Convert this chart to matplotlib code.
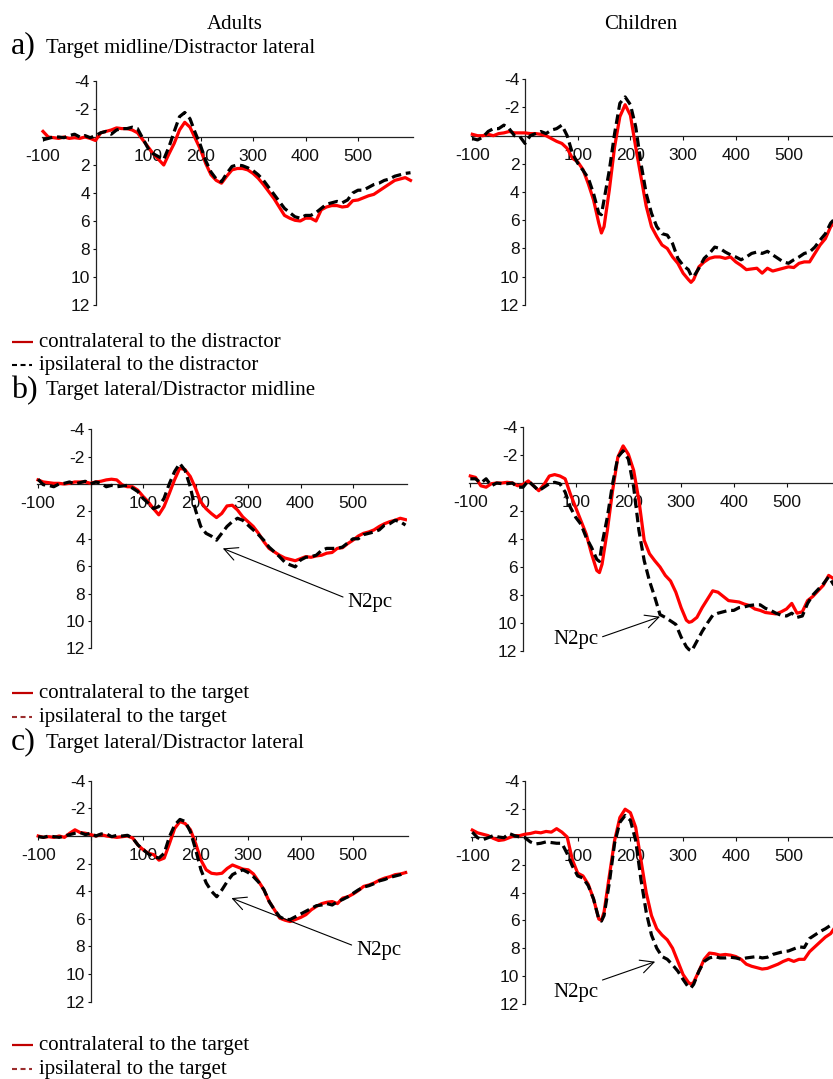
import matplotlib
matplotlib.use("Agg")
import matplotlib.pyplot as plt
from matplotlib.lines import Line2D

# ---------------- data (µV, negative up; time in ms) ----------------
time_adult = list(range(-100, 601, 10))
time_child = list(range(-100, 141, 10)) + [145] + list(range(150, 311, 10)) + [315] + list(range(320, 591, 10))

a_adult_contra = [-0.4, 0.0, 0.05, 0.1, 0.0, 0.1, 0.05, 0.1, 0.0, 0.1, 0.25, -0.3, -0.4, -0.5, -0.65, -0.6,
                  -0.6, -0.5, -0.3, 0.2, 0.7, 1.2, 1.6, 2.0, 1.2, 0.45, -0.5, -1.05, -0.7, 0.1, 0.9, 1.9,
                  2.7, 3.1, 3.3, 2.8, 2.35, 2.25, 2.25, 2.35, 2.6, 2.95, 3.4, 3.9, 4.4, 5.0, 5.6, 5.8,
                  5.95, 6.0, 5.8, 5.8, 6.0, 5.2, 5.0, 4.9, 4.9, 5.0, 4.95, 4.55, 4.5, 4.35, 4.2, 4.1,
                  3.85, 3.6, 3.35, 3.1, 3.0, 2.9, 3.1]
a_adult_ipsi = [0.2, 0.1, 0.0, 0.0, 0.05, -0.1, -0.2, 0.0, -0.1, 0.05, -0.1, -0.3, -0.4, -0.2, -0.5, -0.6,
                -0.6, -0.7, -0.6, 0.1, 0.8, 1.2, 1.4, 1.6, 0.7, -0.4, -1.45, -1.75, -1.3, -0.3, 0.6, 1.7,
                2.5, 3.0, 3.2, 2.6, 2.1, 2.0, 2.05, 2.2, 2.4, 2.7, 3.1, 3.6, 4.1, 4.6, 5.1, 5.4,
                5.7, 5.8, 5.6, 5.6, 5.4, 5.1, 4.8, 4.7, 4.6, 4.7, 4.5, 4.0, 3.8, 3.8, 3.6, 3.4,
                3.3, 3.1, 3.0, 2.8, 2.7, 2.6, 2.55]
a_child_contra = [-0.1, 0.0, 0.0, -0.1, 0.0, -0.15, -0.2, -0.3, -0.2, -0.2, -0.2, -0.15, -0.15, -0.1, 0.0,
                  0.2, 0.4, 0.55, 0.9, 1.6, 1.85, 2.4, 3.4, 4.55, 6.2, 6.9, 6.45, 3.85, 0.8, -1.35, -2.2,
                  -1.45, 0.8, 2.9, 5.0, 6.45, 7.15, 7.75, 8.0, 8.6, 9.05, 9.75, 10.2, 10.4, 10.2, 9.3,
                  8.95, 8.7, 8.6, 8.6, 8.7, 8.6, 8.95, 9.2, 9.5, 9.45, 9.4, 9.75, 9.4, 9.6, 9.5, 9.4,
                  9.3, 9.35, 9.05, 8.95, 8.95, 8.35, 7.75, 7.3, 6.45, 6.0]
a_child_ipsi = [0.2, 0.3, 0.1, -0.3, -0.5, -0.5, -0.75, -0.5, 0.0, 0.05, 0.55, 0.0, -0.15, -0.3, -0.15,
                -0.4, -0.5, -0.75, 0.0, 1.25, 1.95, 2.45, 3.0, 4.1, 5.5, 5.6, 4.55, 2.45, -0.15, -2.3,
                -2.75, -2.2, -0.65, 1.95, 4.1, 5.5, 6.45, 6.95, 7.05, 7.65, 8.7, 9.2, 9.5, 9.9, 10.0,
                9.4, 8.7, 8.35, 7.9, 8.0, 8.25, 8.45, 8.6, 8.8, 8.6, 8.35, 8.25, 8.35, 8.2, 8.45, 8.7,
                8.95, 9.05, 8.8, 8.6, 8.35, 8.25, 7.9, 7.4, 6.95, 6.2, 5.8]

b_adult_contra = [-0.3, -0.15, -0.1, -0.05, -0.05, 0.0, -0.05, -0.15, -0.15, -0.15, -0.05, -0.15, -0.2,
                  -0.3, -0.35, -0.3, 0.05, 0.2, 0.2, 0.45, 0.9, 1.3, 1.8, 2.25, 1.65, 0.7, -0.3, -1.15,
                  -1.05, -0.55, 0.3, 1.3, 1.8, 2.15, 2.45, 2.15, 1.6, 1.55, 1.9, 2.4, 2.75, 3.1, 3.6,
                  4.2, 4.7, 4.95, 5.2, 5.4, 5.5, 5.6, 5.45, 5.3, 5.35, 5.25, 5.2, 5.05, 5.0, 4.7, 4.65,
                  4.35, 4.1, 3.8, 3.6, 3.5, 3.35, 3.1, 2.9, 2.75, 2.65, 2.5, 2.6]
b_adult_ipsi = [-0.35, 0.05, 0.1, 0.2, 0.0, -0.05, -0.15, 0.0, -0.1, -0.2, 0.0, -0.15, -0.05, 0.2, 0.1,
                0.2, 0.15, 0.1, 0.3, 0.55, 1.05, 1.4, 1.8, 1.65, 1.05, 0.0, -0.9, -1.5, -1.0, 0.2, 1.9,
                3.1, 3.6, 3.8, 4.1, 3.6, 3.1, 2.75, 2.5, 2.65, 3.0, 3.35, 3.7, 4.1, 4.6, 4.95, 5.3,
                5.7, 5.9, 6.05, 5.55, 5.35, 5.3, 5.2, 4.85, 4.7, 4.7, 4.7, 4.6, 4.3, 4.0, 4.0, 3.7,
                3.6, 3.5, 3.35, 3.0, 2.9, 2.65, 2.75, 3.0]
b_child_contra = [-0.5, -0.4, 0.2, 0.3, 0.05, 0.0, 0.0, -0.05, 0.0, 0.2, 0.1, -0.15, 0.2, 0.55, 0.1, -0.5,
                  -0.6, -0.5, -0.3, 0.8, 1.75, 2.7, 3.65, 5.05, 6.25, 6.4, 5.8, 3.4, 0.55, -1.85, -2.65,
                  -2.05, -0.9, 1.25, 4.1, 5.05, 5.55, 6.0, 6.6, 7.0, 7.8, 8.9, 9.8, 9.95, 9.9, 9.6, 8.9,
                  8.3, 7.7, 7.8, 8.1, 8.4, 8.45, 8.5, 8.65, 8.75, 9.0, 9.1, 9.25, 9.3, 9.35, 9.2, 9.0,
                  8.6, 9.3, 9.2, 8.4, 8.1, 7.7, 7.3, 6.6, 6.85]
b_child_ipsi = [-0.3, -0.3, 0.0, -0.3, 0.2, 0.0, 0.05, 0.05, 0.0, 0.3, 0.3, -0.15, 0.2, 0.55, 0.3, 0.05,
                -0.05, 0.05, 0.65, 1.75, 2.45, 2.95, 3.9, 4.6, 5.45, 5.6, 4.35, 2.45, 0.05, -1.85, -2.3,
                -1.7, 0.3, 3.4, 5.55, 7.0, 8.15, 9.4, 9.6, 9.85, 10.1, 11.0, 11.7, 11.9, 12.0, 11.3,
                10.6, 10.0, 9.45, 9.3, 9.2, 9.1, 9.1, 8.9, 8.85, 8.75, 8.7, 8.7, 8.95, 9.1, 9.3, 9.45,
                9.5, 9.3, 9.6, 9.5, 8.6, 8.0, 7.6, 7.2, 6.7, 7.3]

c_adult_contra = [0.0, 0.1, 0.05, 0.1, 0.0, 0.1, -0.2, -0.45, -0.25, -0.2, -0.1, 0.0, -0.1, 0.0, 0.05, 0.1,
                  0.05, 0.0, 0.15, 0.65, 1.0, 1.25, 1.35, 1.75, 1.6, 0.55, -0.55, -1.05, -0.9, -0.45,
                  0.55, 1.75, 2.45, 2.7, 2.75, 2.7, 2.35, 2.1, 2.25, 2.4, 2.45, 2.75, 3.3, 3.9, 4.75,
                  5.35, 5.95, 6.1, 6.2, 6.05, 5.9, 5.7, 5.35, 5.1, 4.9, 4.8, 4.75, 4.9, 4.5, 4.4, 4.2,
                  3.95, 3.65, 3.55, 3.4, 3.2, 3.05, 2.95, 2.8, 2.75, 2.65]
c_adult_ipsi = [0.05, 0.1, 0.0, 0.05, 0.1, 0.0, -0.1, -0.2, -0.25, -0.1, -0.2, 0.0, -0.15, -0.15, 0.05,
                -0.05, 0.0, -0.05, 0.15, 0.65, 1.0, 1.3, 1.5, 1.6, 1.25, 0.05, -0.8, -1.2, -1.05, -0.3,
                1.0, 2.45, 3.4, 4.0, 4.4, 3.9, 3.3, 2.8, 2.6, 2.45, 2.65, 2.95, 3.35, 3.9, 4.75, 5.35,
                5.85, 6.05, 6.05, 5.85, 5.65, 5.45, 5.25, 5.05, 5.0, 4.9, 5.0, 4.75, 4.6, 4.4, 4.15,
                3.9, 3.7, 3.6, 3.45, 3.25, 3.15, 3.0, 2.9, 2.8, 2.6]
c_child_contra = [-0.5, -0.3, -0.2, -0.1, 0.1, 0.25, 0.2, 0.05, -0.1, -0.1, -0.2, -0.25, -0.35, -0.3, -0.4,
                  -0.35, -0.6, -0.35, 0.0, 1.65, 2.6, 2.8, 3.4, 4.45, 5.9, 6.0, 5.4, 2.8, 0.25, -1.4,
                  -2.0, -1.75, -0.7, 1.65, 4.0, 5.65, 6.6, 7.05, 7.4, 8.0, 8.95, 9.9, 10.45, 10.6,
                  10.45, 9.65, 8.8, 8.35, 8.4, 8.5, 8.45, 8.5, 8.6, 8.8, 9.15, 9.3, 9.4, 9.5, 9.45, 9.3,
                  9.15, 8.95, 8.8, 8.95, 8.8, 8.8, 8.25, 7.9, 7.55, 7.2, 6.95, 6.4]
c_child_ipsi = [-0.35, 0.05, 0.2, 0.05, -0.1, 0.0, 0.05, -0.25, -0.1, 0.0, 0.05, 0.35, 0.5, 0.45, 0.35,
                0.4, 0.45, 0.45, 1.2, 2.1, 2.8, 2.95, 3.5, 4.45, 5.9, 6.05, 5.65, 3.3, 0.45, -1.05,
                -1.55, -1.2, 0.25, 3.05, 5.4, 7.05, 8.0, 8.6, 8.8, 9.2, 9.65, 10.25, 10.8, 10.85, 10.6,
                9.65, 8.95, 8.7, 8.6, 8.7, 8.7, 8.65, 8.7, 8.8, 8.7, 8.65, 8.6, 8.7, 8.65, 8.45, 8.35,
                8.25, 8.2, 8.05, 7.9, 7.95, 7.3, 7.05, 6.8, 6.6, 6.35, 6.1]

x_ticks = [-100, 0, 100, 200, 300, 400, 500]
x_tick_labels = ["-100", "", "100", "200", "300", "400", "500"]
y_ticks = [-4, -2, 2, 4, 6, 8, 10, 12]
y_tick_labels = ["-4", "-2", "2", "4", "6", "8", "10", "12"]

# ---------------- layout ----------------
W, H = 833, 1079
fig = plt.figure(figsize=(W / 100, H / 100), dpi=100)
fig.patch.set_facecolor("white")
SERIF = "Liberation Serif"
SANS = "Liberation Sans"
XMIN = -110
YTOP, YBOT = -4.6, 12.6
RED = "#ff0000"
TICK_FS = 12.5


def make_ax(x0, y0, xs, ys, xmax):
    left = (x0 + xs * XMIN) / W
    width = xs * (xmax - XMIN) / W
    top_px = y0 + ys * YTOP
    bot_px = y0 + ys * YBOT
    ax = fig.add_axes([left, 1 - bot_px / H, width, (bot_px - top_px) / H])
    ax.set_xlim(XMIN, xmax)
    ax.set_ylim(YBOT, YTOP)
    ax.patch.set_alpha(0)
    for s in ("top", "right"):
        ax.spines[s].set_visible(False)
    ax.spines["left"].set_position(("data", 0))
    ax.spines["left"].set_bounds(-4, 12)
    ax.spines["bottom"].set_position(("data", 0))
    ax.spines["bottom"].set_bounds(-102, xmax)
    for s in ("left", "bottom"):
        ax.spines[s].set_linewidth(0.9)
        ax.spines[s].set_color("#222222")
    ax.set_xticks(x_ticks)
    ax.set_xticklabels(x_tick_labels, fontfamily=SANS, fontsize=TICK_FS)
    ax.set_yticks(y_ticks)
    ax.set_yticklabels(y_tick_labels, fontfamily=SANS, fontsize=TICK_FS)
    ax.tick_params(axis="x", direction="out", length=3, width=0.8, pad=5.5, colors="#111111")
    ax.tick_params(axis="y", direction="out", length=2.5, width=0.8, pad=1.5, colors="#111111")
    return ax


def draw(ax, t, contra, ipsi):
    ax.plot(t, contra, color=RED, lw=2.3, solid_joinstyle="round", zorder=3)
    ax.plot(t, ipsi, color="black", lw=2.3, linestyle=(0, (3.0, 1.5)), zorder=4)


panels = [
    # x0, y0, xscale, yscale, xmax
    (95.5, 137.0, 0.525, 14.0, 605),
    (525.0, 135.7, 0.527, 14.1, (833 - 525.0) / 0.527),
    (90.5, 484.0, 0.525, 13.7, 602),
    (523.0, 483.0, 0.527, 14.0, (833 - 523.0) / 0.527),
    (90.7, 836.0, 0.525, 13.8, 605),
    (525.0, 837.0, 0.527, 13.9, (833 - 525.0) / 0.527),
]
axes = [make_ax(*p) for p in panels]

draw(axes[0], time_adult, a_adult_contra, a_adult_ipsi)
draw(axes[1], time_child, a_child_contra, a_child_ipsi)
draw(axes[2], time_adult, b_adult_contra, b_adult_ipsi)
draw(axes[3], time_child, b_child_contra, b_child_ipsi)
draw(axes[4], time_adult, c_adult_contra, c_adult_ipsi)
draw(axes[5], time_child, c_child_contra, c_child_ipsi)

# N2pc annotations (head, tail, text position in data coords)
arrow_kw = dict(arrowstyle="->,head_length=0.6,head_width=0.3", lw=0.8, color="black",
                shrinkA=0, shrinkB=0, mutation_scale=16)
n2pc = [
    (axes[2], (252, 4.7), (481, 8.25), (490, 9.0)),
    (axes[3], (260, 9.55), (151, 10.98), (57, 11.5)),
    (axes[4], (268, 4.5), (497, 7.9), (506, 8.62)),
    (axes[5], (247, 8.97), (147, 10.29), (54, 11.5)),
]
for ax, head, tail, tpos in n2pc:
    ax.annotate("", xy=head, xytext=tail, arrowprops=arrow_kw, zorder=6)
    ax.text(tpos[0], tpos[1], "N2pc", fontfamily=SERIF, fontsize=15, ha="left", va="baseline", zorder=6)


def ftext(x, y, s, **kw):
    kw.setdefault("fontfamily", SERIF)
    kw.setdefault("fontsize", 15)
    kw.setdefault("va", "baseline")
    fig.text(x / W, 1 - y / H, s, **kw)


def fline(x1, x2, y, **kw):
    fig.add_artist(Line2D([x1 / W, x2 / W], [1 - y / H, 1 - y / H], transform=fig.transFigure, **kw))


ftext(235, 29, "Adults", ha="center")
ftext(641, 29, "Children", ha="center")

sections = [
    ("a)", 53, "Target midline/Distractor lateral", 53),
    ("b)", 398, "Target lateral/Distractor midline", 395),
    ("c)", 749, "Target lateral/Distractor lateral", 748),
]
for lab, yb, title, yt in sections:
    ftext(11, yb, lab, fontsize=23)
    ftext(46.5, yt, title)

legends = [
    (347, "contralateral to the distractor", 370, "ipsilateral to the distractor", "black"),
    (698, "contralateral to the target", 722, "ipsilateral to the target", "#9b2d2d"),
    (1050, "contralateral to the target", 1074, "ipsilateral to the target", "#9b2d2d"),
]
for y1, s1, y2, s2, dash_col in legends:
    fline(12, 33, y1 - 5, color="#c00000", lw=1.6, solid_capstyle="butt")
    ftext(39, y1, s1)
    fline(12, 32, y2 - 5, color=dash_col, lw=1.5, linestyle=(0, (2.4, 1.7)), dash_capstyle="butt")
    ftext(39, y2, s2)

fig.savefig("out.png", dpi=100, facecolor="white")
